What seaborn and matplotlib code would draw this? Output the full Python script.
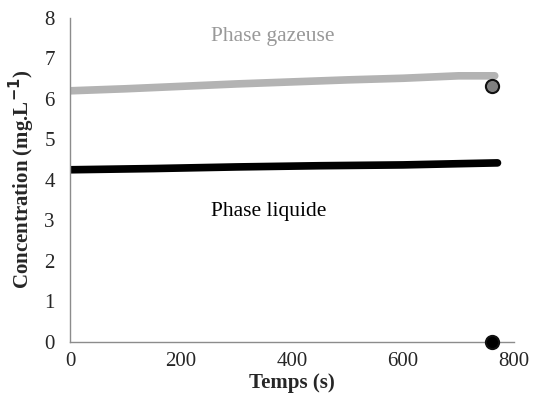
import matplotlib
matplotlib.use("Agg")
import matplotlib.pyplot as plt
import seaborn as sns
import pandas as pd

# data
gas_t = [0, 100, 200, 300, 400, 500, 600, 700, 765]
gas_c = [6.2, 6.25, 6.31, 6.37, 6.42, 6.47, 6.51, 6.57, 6.57]
liq_t = [0, 150, 300, 450, 600, 700, 770]
liq_c = [4.25, 4.28, 4.32, 4.35, 4.37, 4.40, 4.42]
pt_t = [760, 760]
pt_c = [6.33, 0.0]
pt_col = ["#808080", "#000000"]
xticks = [0, 200, 400, 600, 800]
yticks = [0, 1, 2, 3, 4, 5, 6, 7, 8]

sns.set_theme(style="white")
plt.rcParams['font.family'] = ['Liberation Serif', 'DejaVu Serif']

fig = plt.figure(figsize=(5.35, 4.07), dpi=100)
ax = fig.add_axes([0.131, 0.160, 0.830, 0.796])

gas = pd.DataFrame({"t": gas_t, "c": gas_c})
liq = pd.DataFrame({"t": liq_t, "c": liq_c})
sns.lineplot(data=gas, x="t", y="c", ax=ax, color="#b3b3b3", linewidth=5.5)
sns.lineplot(data=liq, x="t", y="c", ax=ax, color="#000000", linewidth=5.5)
for t, c, col in zip(pt_t, pt_c, pt_col):
    ax.scatter([t], [c], s=90, color=col, edgecolor="#111111", linewidth=1.5, zorder=5, clip_on=False)

ax.set_xlim(0, 800)
ax.set_ylim(0, 8)
ax.set_xticks(xticks)
ax.set_yticks(yticks)
ax.tick_params(axis='x', labelsize=15, length=0, pad=7)
ax.tick_params(axis='y', labelsize=15, length=0, pad=11)
for s in ["top", "right"]:
    ax.spines[s].set_visible(False)
for s in ["left", "bottom"]:
    ax.spines[s].set_color("#8c8c8c")
    ax.spines[s].set_linewidth(1.0)

ax.set_xlabel("Temps (s)", fontsize=15, fontweight="bold", labelpad=2)
ax.set_ylabel(r"Concentration (mg.L$^{\mathbf{-1}}$)", fontsize=15, fontweight="bold", labelpad=5)

ax.text(365, 7.55, "Phase gazeuse", color="#999999", fontsize=15.5, ha="center", va="center")
ax.text(357, 3.22, "Phase liquide", color="#000000", fontsize=15.5, ha="center", va="center")

fig.savefig("out.png", dpi=100)
